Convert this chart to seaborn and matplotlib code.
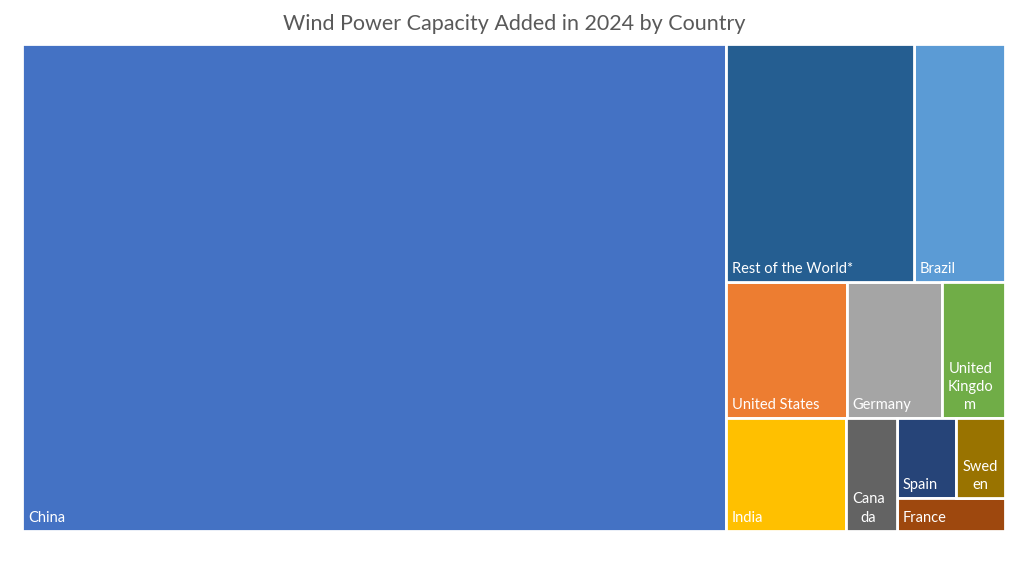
import matplotlib.pyplot as plt
from matplotlib.patches import Rectangle
import seaborn as sns

# capacity added in 2024, GW
countries = ["China", "United States", "Germany", "India", "Brazil", "United Kingdom",
             "Spain", "France", "Canada", "Sweden", "Rest of the World*"]
capacity = [79.0, 3.8, 3.0, 3.1, 5.0, 2.0, 1.1, 0.8, 1.3, 0.9, 10.3]
labels = ["China", "United States", "Germany", "India", "Brazil", "United\nKingdo\nm",
          "Spain", "France", "Cana\nda", "Swed\nen", "Rest of the World*"]
colors = ["#4472C4", "#ED7D31", "#A5A5A5", "#FFC000", "#5B9BD5", "#70AD47",
          "#264478", "#9E480E", "#636363", "#997300", "#255E91"]

# how the treemap is nested (split direction alternates x / y with depth)
layout = ["China",
          [["Rest of the World*", "Brazil"],
           ["United States", "Germany", "United Kingdom"],
           ["India", "Canada", [["Spain", "Sweden"], "France"]]]]

value = dict(zip(countries, capacity))


def total(node):
    if isinstance(node, str):
        return value[node]
    return sum(total(n) for n in node)


def place(node, x, y, w, h, depth, out):
    if isinstance(node, str):
        out[node] = (x, y, w, h)
        return
    s = total(node)
    for child in node:
        f = total(child) / s
        if depth % 2 == 0:
            place(child, x, y, w * f, h, depth + 1, out)
            x += w * f
        else:
            place(child, x, y, w, h * f, depth + 1, out)
            y += h * f


W, H = 983, 487
rects = {}
place(layout, 0, 0, W, H, 0, rects)

sns.set_theme(style="white")
plt.rcParams["font.family"] = ["Lato", "DejaVu Sans"]

fig = plt.figure(figsize=(10.22, 5.63), dpi=100)
ax = fig.add_axes([22 / 1022, 1 - 530.5 / 563, W / 1022, H / 563])
ax.set_xlim(0, W)
ax.set_ylim(H, 0)
ax.axis("off")

for name, lab, col in zip(countries, labels, colors):
    x, y, w, h = rects[name]
    ax.add_patch(Rectangle((x, y), w, h, facecolor=col, edgecolor="white", linewidth=2))
    ax.text(x + 6, y + h - 6, lab, color="white", fontsize=10.5,
            ha="left", va="bottom", multialignment="center", linespacing=1.4)

fig.text(0.503, 1 - 30 / 563, "Wind Power Capacity Added in 2024 by Country",
         ha="center", va="baseline", fontsize=15.5, color="#595959")

fig.savefig("out.png", dpi=100, facecolor="white")
